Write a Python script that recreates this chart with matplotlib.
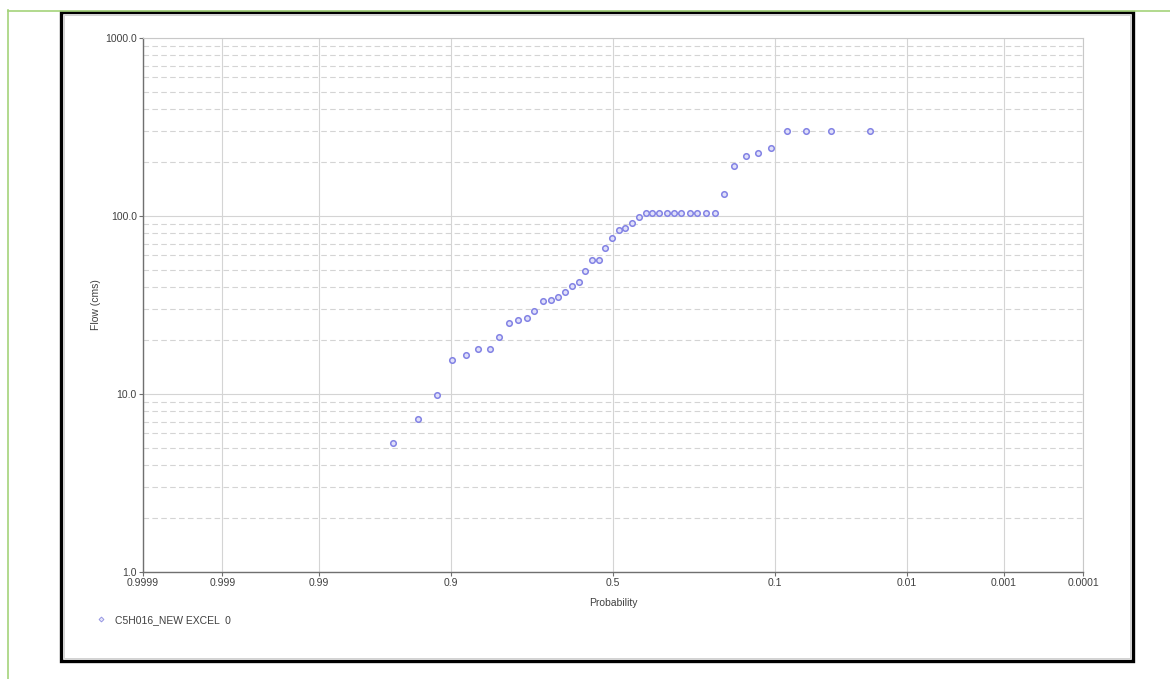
#!/usr/bin/env python

from statistics import NormalDist

import numpy as np
from matplotlib import pyplot
from matplotlib.lines import Line2D
from matplotlib.patches import Rectangle
from matplotlib.ticker import FixedLocator, FormatStrFormatter, LogLocator, NullFormatter

# exceedance probability of each point
probability = [0.021, 0.042, 0.063, 0.084, 0.105, 0.126, 0.146, 0.169, 0.189, 0.210,
               0.230, 0.252, 0.272, 0.294, 0.315, 0.336, 0.357, 0.378, 0.397, 0.420,
               0.439, 0.461, 0.482, 0.504, 0.524, 0.544, 0.566, 0.587, 0.607, 0.628,
               0.648, 0.669, 0.689, 0.711, 0.733, 0.752, 0.774, 0.795, 0.816, 0.835,
               0.857, 0.878, 0.898, 0.918, 0.939, 0.959]
flow = [301.4, 301.4, 301.4, 301.4, 240.0, 225.0, 217.3, 190.9, 132.4, 104.4,
        104.4, 104.4, 104.4, 104.4, 104.4, 104.4, 104.4, 104.4, 104.4, 98.7,
        91.3, 85.9, 83.4, 75.0, 66.5, 56.4, 56.4, 49.1, 42.6, 40.6,
        37.4, 34.9, 33.7, 33.4, 29.3, 26.8, 26.0, 25.2, 20.8, 17.97,
        17.97, 16.5, 15.5, 9.91, 7.21, 5.28]

xTicks = [0.9999, 0.999, 0.99, 0.9, 0.5, 0.1, 0.01, 0.001, 0.0001]
xTickLabels = ['0.9999', '0.999', '0.99', '0.9', '0.5', '0.1', '0.01', '0.001', '0.0001']
yTicks = [1, 10, 100, 1000]
seriesName = 'C5H016_NEW EXCEL  0'

W, H = 1170, 679
TEXT = '#404040'

normal = NormalDist()
_ppf = np.vectorize(lambda p: normal.inv_cdf(min(max(p, 1e-12), 1 - 1e-12)), otypes = [float])
_cdf = np.vectorize(normal.cdf, otypes = [float])


def forward(p):
    return _ppf(np.asarray(p, dtype = float))


def inverse(z):
    return _cdf(np.asarray(z, dtype = float))


def fx(x):
    return x / W


def fy(y):
    return 1 - y / H


def frame(figure):
    # light green page border and black chart frame
    figure.add_artist(Line2D([fx(8), fx(8)], [fy(10), 0], color = '#a4d37a', lw = 1.2))
    figure.add_artist(Line2D([fx(8), 1], [fy(11), fy(11)], color = '#a4d37a', lw = 1.2))
    figure.add_artist(Rectangle((fx(61), fy(661)), fx(1133) - fx(61), fy(12) - fy(661),
                                transform = figure.transFigure, fill = False,
                                edgecolor = 'black', lw = 2.4))
    figure.add_artist(Rectangle((fx(64), fy(658)), fx(1130) - fx(64), fy(15) - fy(658),
                                transform = figure.transFigure, fill = False,
                                edgecolor = '#c0c0c0', lw = 0.5))


def plotProbability():
    pyplot.rcParams['font.family'] = ['Liberation Sans', 'DejaVu Sans']
    figure = pyplot.figure(figsize = (W / 100, H / 100), dpi = 100)
    axes = figure.add_axes([fx(143), fy(572), fx(1083) - fx(143), fy(38) - fy(572)])

    axes.set_xscale('function', functions = (forward, inverse))
    axes.set_yscale('log')
    axes.set_xlim(0.9999, 0.0001)
    axes.set_ylim(1, 1000)

    axes.xaxis.set_major_locator(FixedLocator(xTicks))
    axes.set_xticklabels(xTickLabels)
    axes.xaxis.set_minor_locator(FixedLocator([]))
    axes.yaxis.set_major_locator(FixedLocator(yTicks))
    axes.yaxis.set_major_formatter(FormatStrFormatter('%.1f'))
    axes.yaxis.set_minor_locator(LogLocator(base = 10, subs = np.arange(2, 10)))
    axes.yaxis.set_minor_formatter(NullFormatter())

    axes.grid(which = 'major', axis = 'both', color = '#d4d4d4', lw = 0.8, ls = '-')
    axes.grid(which = 'minor', axis = 'y', color = '#d4d4d4', lw = 0.8, ls = (0, (5, 3)))
    axes.set_axisbelow(True)

    for side in ('top', 'right'):
        axes.spines[side].set_color('#c8c8c8')
        axes.spines[side].set_linewidth(0.8)
    for side in ('left', 'bottom'):
        axes.spines[side].set_color('#707070')
        axes.spines[side].set_linewidth(1.0)

    axes.tick_params(which = 'major', length = 3, width = 0.8, color = '#707070',
                     labelsize = 7.5, labelcolor = TEXT, pad = 1.5)
    axes.tick_params(which = 'minor', length = 0)

    axes.plot(probability, flow, ls = 'none', marker = 'o', markersize = 4.0,
              markeredgewidth = 1.1, markeredgecolor = '#8282e4', markerfacecolor = '#e0e0fa')

    axes.set_xlabel('Probability', fontsize = 7.5, color = TEXT, labelpad = 7)
    axes.set_ylabel('Flow (cms)', fontsize = 7.5, color = TEXT, labelpad = 3)

    handle = Line2D([], [], ls = 'none', marker = 'D', markersize = 2.5,
                    markeredgewidth = 0.6, markeredgecolor = '#8c8ce0', markerfacecolor = '#e4e4fa')
    figure.legend([handle], [seriesName], loc = 'center left',
                  bbox_to_anchor = (fx(85), fy(620)), frameon = False,
                  fontsize = 7.5, labelcolor = TEXT, handlelength = 1.2, handletextpad = 0.8)

    frame(figure)
    figure.savefig('out.png', dpi = 100)


def main():
    plotProbability()

main()
